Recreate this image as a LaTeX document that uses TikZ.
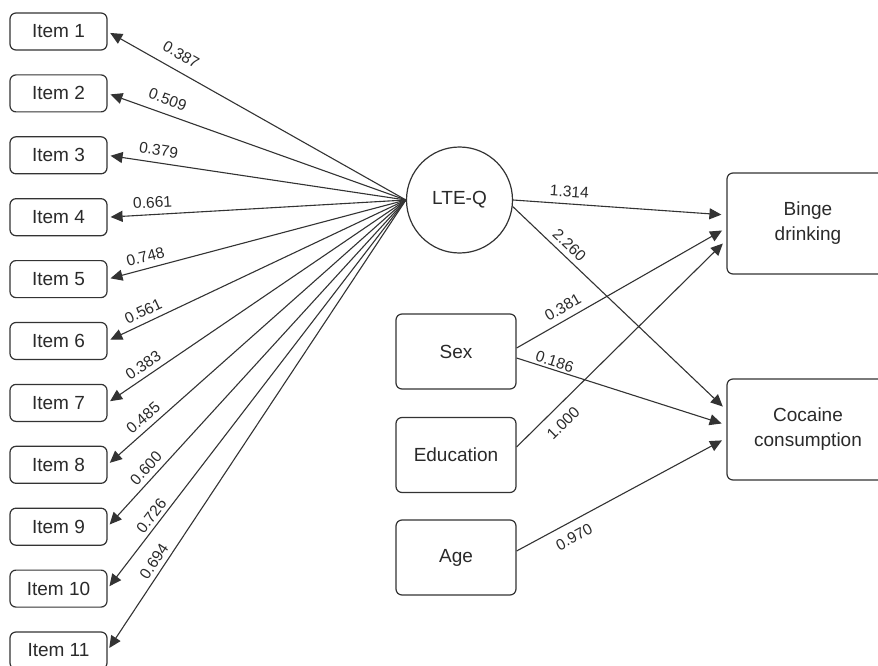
\documentclass[tikz,border=0pt]{standalone}
\usepackage{fontspec}
\setmainfont{Liberation Sans}
\usetikzlibrary{arrows.meta}
\definecolor{ln}{HTML}{333333}
\definecolor{tx}{HTML}{2A2A2A}
\tikzset{
  box/.style={draw=ln, line width=1.2pt, rounded corners=6pt, text=tx,
    font=\fontsize{19}{25}\selectfont, align=center, inner sep=0pt},
  itembox/.style={box, minimum width=97pt, minimum height=37pt},
  obsbox/.style={box, minimum width=120pt, minimum height=75pt},
  outbox/.style={box, minimum width=162pt, minimum height=101pt},
  latent/.style={circle, draw=ln, line width=1.2pt, minimum size=106pt, text=tx,
    font=\fontsize{19}{25}\selectfont, inner sep=0pt},
  arr/.style={draw=ln, line width=1.1pt, -{Triangle[length=12pt,width=11pt]}},
  lbl/.style={font=\fontsize{15.5}{18}\selectfont, text=tx, inner sep=0pt, sloped},
}
\begin{document}
\begin{tikzpicture}[x=1pt,y=-1pt]
\useasboundingbox (0,0) rectangle (878,666);
\fill[white] (0,0) rectangle (878,666);
% latent
\node[latent] (lte) at (459.5,200) {LTE-Q};
% items
\foreach \k in {1,...,11}{
  \node[itembox] (i\k) at (58.5,{31.5+(\k-1)*61.9}) {Item \k};
}
% observed
\node[obsbox] (sex) at (456,351.5) {Sex};
\node[obsbox] (edu) at (456,455) {Education};
\node[obsbox] (age) at (456,557.5) {Age};
% outcomes
\node[outbox] (bd) at (808,223.5) {Binge\\drinking};
\node[outbox] (cc) at (808,429.5) {Cocaine\\consumption};
% loadings
\foreach \k/\v/\p/\d in {1/0.387/0.78/10, 2/0.509/0.815/8.5, 3/0.379/0.835/6.5,
  4/0.661/0.847/6, 5/0.748/0.863/6, 6/0.561/0.864/5.5, 7/0.383/0.86/5,
  8/0.485/0.855/5.5, 9/0.600/0.844/5, 10/0.726/0.828/3.5, 11/0.694/0.815/4.5}{
  \draw[arr, shorten >=3pt] (lte.west) -- node[lbl, pos=\p, above=\d pt] {\v} (i\k.east);
}
% structural paths
\draw[arr, shorten >=5pt] (lte.east) -- node[lbl, pos=0.26, above=6pt] {1.314} ([yshift=8.5pt]bd.west);
\draw[arr, shorten >=5pt] (lte.-7) -- node[lbl, pos=0.23, above=5pt] {2.260} ([yshift=19.5pt]cc.west);
\draw[arr, shorten >=5pt] ([yshift=3.5pt]sex.east) -- node[lbl, pos=0.25, above=6.4pt] {0.381} ([yshift=-4.5pt]bd.west);
\draw[arr, shorten >=5pt] ([yshift=-6.5pt]sex.east) -- node[lbl, pos=0.17, above=2pt] {0.186} ([yshift=4.5pt]cc.west);
\draw[arr, shorten >=5pt] ([yshift=8pt]edu.east) -- node[lbl, pos=0.17, below=9.5pt] {1.000} ([yshift=-16.5pt]bd.west);
\draw[arr, shorten >=5pt] ([yshift=6.5pt]age.east) -- node[lbl, pos=0.24, below=9pt] {0.970} ([yshift=-8.5pt]cc.west);
\end{tikzpicture}
\end{document}
